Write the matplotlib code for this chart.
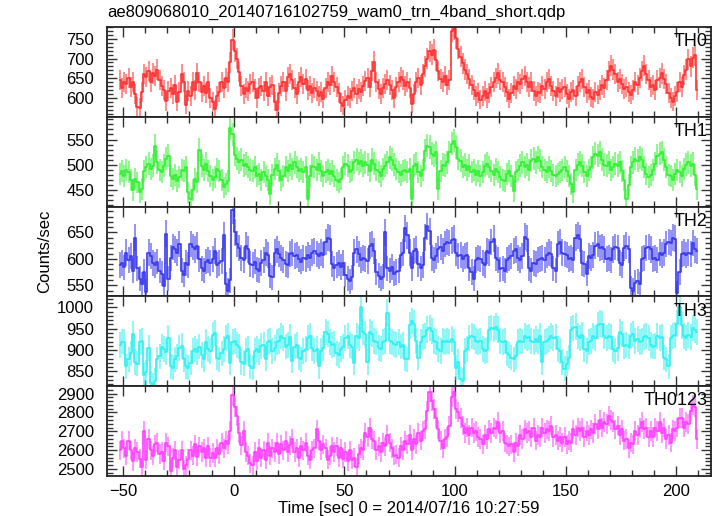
import numpy as np
import matplotlib
matplotlib.use('Agg')
import matplotlib.pyplot as plt
from matplotlib.ticker import MultipleLocator

plt.rcParams['font.family'] = ['Liberation Sans', 'DejaVu Sans']

# 1 s bins, centres from -51.5 to 209.5 s
t_start = -51.5
n_bins = 262

th0 = [
    645, 625, 640, 635, 650, 628, 640, 610, 578, 575,
    615, 660, 652, 668, 640, 662, 655, 672, 645, 630,
    620, 592, 618, 625, 610, 632, 590, 615, 660, 640,
    582, 618, 605, 640, 620, 662, 640, 615, 630, 612,
    640, 600, 590, 572, 605, 615, 640, 625, 650, 640,
    690, 748, 718, 700, 665, 630, 610, 625, 618, 635,
    640, 622, 600, 625, 630, 618, 640, 605, 628, 632,
    590, 570, 612, 630, 640, 618, 652, 660, 645, 625,
    610, 640, 652, 635, 648, 620, 630, 612, 625, 618,
    605, 615, 598, 625, 640, 632, 655, 640, 628, 612,
    588, 580, 595, 605, 600, 618, 625, 610, 622, 615,
    630, 642, 650, 628, 668, 692, 640, 622, 610, 625,
    635, 645, 632, 620, 600, 628, 640, 652, 645, 630,
    640, 625, 585, 610, 640, 650, 632, 660, 680, 700,
    718, 710, 722, 695, 668, 648, 640, 655, 632, 645,
    770, 775, 752, 725, 705, 688, 672, 660, 648, 632,
    620, 605, 612, 595, 605, 618, 600, 612, 628, 640,
    650, 662, 645, 640, 628, 615, 598, 612, 630, 622,
    640, 635, 648, 655, 640, 628, 640, 618, 605, 615,
    612, 630, 622, 640, 648, 630, 618, 605, 625, 615,
    622, 628, 610, 598, 615, 620, 605, 630, 640, 648,
    628, 612, 620, 602, 598, 615, 608, 620, 632, 625,
    645, 668, 682, 672, 660, 640, 648, 635, 622, 628,
    615, 608, 620, 640, 632, 650, 668, 682, 660, 645,
    628, 632, 620, 645, 650, 662, 648, 635, 612, 600,
    590, 605, 615, 640, 628, 658, 672, 698, 680, 702,
    708, 620,
]

th1 = [
    482, 488, 478, 490, 485, 470, 450, 472, 465, 445,
    452, 488, 495, 502, 492, 498, 538, 505, 490, 485,
    498, 512, 518, 478, 472, 480, 468, 475, 490, 488,
    495, 445, 432, 450, 472, 465, 530, 498, 490, 502,
    488, 478, 470, 475, 492, 488, 470, 455, 462, 468,
    572, 560, 520, 512, 505, 510, 498, 502, 495, 490,
    488, 495, 478, 482, 470, 485, 478, 470, 442, 480,
    492, 500, 488, 470, 478, 495, 488, 500, 492, 505,
    495, 488, 492, 485, 495, 432, 478, 498, 495, 490,
    502, 488, 478, 485, 490, 482, 488, 478, 470, 465,
    472, 495, 502, 498, 485, 490, 505, 510, 502, 508,
    498, 505, 500, 488, 510, 502, 490, 485, 478, 492,
    498, 505, 515, 510, 500, 492, 485, 480, 488, 490,
    485, 492, 432, 498, 502, 485, 478, 490, 528, 538,
    535, 522, 518, 525, 452, 488, 500, 498, 505, 525,
    542, 548, 535, 512, 508, 495, 500, 490, 498, 485,
    490, 480, 488, 478, 485, 498, 502, 495, 488, 480,
    492, 485, 475, 470, 468, 482, 488, 478, 448, 485,
    490, 498, 505, 495, 500, 490, 508, 512, 505, 515,
    508, 495, 490, 485, 495, 488, 480, 478, 482, 485,
    490, 495, 488, 478, 462, 445, 490, 500, 505, 498,
    485, 478, 490, 495, 515, 522, 518, 525, 510, 500,
    498, 505, 490, 495, 502, 498, 505, 488, 470, 432,
    460, 495, 505, 512, 508, 515, 510, 495, 482, 475,
    480, 490, 502, 518, 522, 525, 510, 495, 480, 478,
    470, 482, 490, 485, 478, 492, 500, 505, 498, 502,
    480, 452,
]

th2 = [
    588, 592, 584, 612, 598, 606, 578, 640, 582, 562,
    552, 575, 538, 612, 605, 592, 588, 595, 578, 572,
    548, 648, 562, 602, 622, 618, 612, 628, 578, 570,
    592, 588, 628, 622, 618, 625, 600, 582, 578, 595,
    598, 592, 600, 615, 588, 592, 596, 645, 552, 540,
    560, 692, 650, 628, 620, 602, 598, 625, 618, 590,
    588, 595, 580, 578, 592, 598, 612, 608, 568, 565,
    612, 618, 610, 602, 598, 590, 588, 610, 612, 605,
    608, 600, 595, 602, 600, 608, 602, 612, 615, 610,
    605, 612, 608, 632, 640, 638, 590, 582, 588, 592,
    585, 592, 570, 562, 558, 565, 612, 618, 610, 598,
    602, 600, 596, 625, 628, 615, 575, 568, 562, 566,
    650, 582, 578, 585, 572, 575, 578, 608, 612, 658,
    645, 612, 582, 615, 618, 590, 582, 588, 640, 662,
    652, 602, 598, 605, 618, 622, 615, 628, 632, 630,
    635, 638, 612, 605, 608, 600, 605, 608, 582, 575,
    562, 598, 602, 600, 592, 588, 615, 612, 632, 638,
    602, 598, 580, 582, 578, 598, 602, 605, 615, 618,
    602, 598, 605, 642, 638, 582, 578, 592, 590, 598,
    600, 602, 598, 608, 612, 610, 582, 578, 628, 632,
    612, 610, 608, 600, 602, 598, 640, 645, 638, 592,
    590, 572, 605, 602, 608, 625, 628, 620, 622, 618,
    600, 602, 598, 618, 622, 620, 592, 588, 620, 625,
    618, 545, 540, 555, 558, 552, 600, 602, 620, 622,
    618, 600, 602, 598, 612, 608, 612, 628, 632, 630,
    640, 638, 535, 575, 610, 612, 608, 612, 610, 630,
    618, 615,
]

th3 = [
    912, 920, 918, 862, 878, 892, 938, 872, 868, 918,
    922, 842, 848, 905, 822, 818, 828, 878, 885, 908,
    902, 895, 928, 862, 858, 878, 885, 905, 910, 878,
    862, 858, 870, 898, 902, 895, 908, 888, 878, 918,
    902, 898, 935, 940, 882, 878, 892, 902, 928, 932,
    870, 918, 922, 912, 908, 872, 868, 898, 902, 862,
    858, 898, 902, 895, 910, 912, 880, 918, 922, 898,
    905, 918, 922, 932, 928, 908, 912, 930, 875, 908,
    912, 882, 878, 898, 902, 928, 932, 905, 898, 902,
    862, 898, 905, 942, 938, 918, 912, 915, 892, 888,
    902, 908, 928, 932, 912, 908, 870, 932, 928, 1000,
    942, 938, 872, 942, 938, 922, 918, 905, 902, 918,
    922, 988, 922, 918, 915, 912, 918, 908, 912, 880,
    878, 958, 968, 962, 922, 882, 918, 930, 932, 948,
    952, 945, 922, 918, 902, 898, 922, 918, 922, 920,
    925, 918, 858, 872, 832, 828, 898, 902, 928, 932,
    930, 922, 918, 922, 902, 898, 900, 948, 952, 950,
    955, 948, 922, 918, 922, 892, 888, 882, 878, 885,
    918, 922, 920, 932, 928, 930, 922, 918, 925, 920,
    932, 872, 918, 922, 925, 932, 928, 930, 902, 898,
    872, 856, 868, 882, 948, 952, 955, 932, 928, 935,
    902, 898, 918, 922, 932, 928, 958, 962, 960, 932,
    928, 932, 930, 902, 898, 905, 942, 938, 910, 912,
    908, 932, 938, 922, 925, 918, 922, 930, 932, 928,
    912, 908, 910, 932, 928, 930, 882, 878, 862, 928,
    932, 935, 962, 1000, 958, 932, 928, 935, 930, 952,
    948, 942,
]

th0123 = [
    2600, 2650, 2610, 2570, 2650, 2600, 2540, 2610, 2590, 2555,
    2510, 2700, 2550, 2660, 2600, 2570, 2630, 2640, 2580, 2590,
    2545, 2640, 2620, 2490, 2560, 2600, 2510, 2550, 2600, 2500,
    2520, 2555, 2600, 2570, 2630, 2565, 2620, 2590, 2610, 2560,
    2620, 2560, 2585, 2560, 2610, 2580, 2640, 2610, 2650, 2630,
    2700, 2890, 2830, 2780, 2690, 2625, 2700, 2590, 2570, 2530,
    2520, 2590, 2545, 2610, 2560, 2600, 2550, 2640, 2570, 2610,
    2590, 2640, 2580, 2630, 2600, 2650, 2590, 2625, 2660, 2590,
    2610, 2560, 2620, 2600, 2640, 2570, 2550, 2600, 2610, 2710,
    2650, 2600, 2630, 2610, 2550, 2570, 2620, 2590, 2620, 2560,
    2610, 2555, 2590, 2540, 2600, 2550, 2560, 2510, 2580, 2610,
    2600, 2690, 2670, 2720, 2660, 2650, 2600, 2620, 2590, 2640,
    2620, 2680, 2640, 2610, 2570, 2575, 2560, 2620, 2600, 2650,
    2630, 2680, 2600, 2660, 2630, 2690, 2650, 2700, 2710, 2810,
    2910, 2860, 2820, 2770, 2710, 2650, 2610, 2660, 2670, 2730,
    2880, 2910, 2820, 2800, 2770, 2730, 2690, 2720, 2680, 2720,
    2690, 2700, 2670, 2660, 2630, 2680, 2660, 2710, 2690, 2720,
    2710, 2750, 2690, 2700, 2640, 2630, 2620, 2630, 2590, 2640,
    2620, 2680, 2660, 2710, 2690, 2700, 2670, 2720, 2650, 2680,
    2670, 2720, 2690, 2710, 2700, 2730, 2670, 2680, 2650, 2670,
    2640, 2670, 2630, 2650, 2640, 2710, 2680, 2720, 2700, 2720,
    2670, 2700, 2680, 2710, 2690, 2740, 2710, 2760, 2720, 2750,
    2740, 2780, 2760, 2750, 2710, 2730, 2680, 2710, 2650, 2660,
    2610, 2640, 2630, 2700, 2680, 2720, 2750, 2710, 2720, 2670,
    2700, 2670, 2720, 2700, 2750, 2690, 2720, 2660, 2680, 2640,
    2710, 2700, 2720, 2770, 2770, 2720, 2750, 2740, 2810, 2840,
    2830, 2660,
]

labels = ['TH0', 'TH1', 'TH2', 'TH3', 'TH0123']
series = [th0, th1, th2, th3, th0123]
colors = ['#ff3030', '#30f030', '#3838ee', '#30f0f0', '#ff40ff']
ylims = [(552, 780), (417, 595), (529, 699), (815, 1026), (2463, 2939)]
ymajor = [50, 50, 50, 50, 100]
yminor = [10, 10, 10, 10, 20]

t = t_start + np.arange(n_bins)

W, H = 717, 516
fig = plt.figure(figsize=(W / 100, H / 100), dpi=100)

left, right = 106.7, 711
top, bottom = 27, 476
ph = (bottom - top) / 5

axes = []
for i in range(5):
    y0 = top + i * ph
    ax = fig.add_axes([left / W, 1 - (y0 + ph) / H, (right - left) / W, ph / H])
    v = np.array(series[i], dtype=float)
    err = np.sqrt(v)
    c = colors[i]
    ax.errorbar(t, v, yerr=err, fmt='none', ecolor=c, elinewidth=1.4, alpha=0.55, capsize=0)
    ax.step(t, v, where='mid', color=c, lw=1.2)
    ax.set_xlim(-57.4, 215.7)
    ax.set_ylim(*ylims[i])
    ax.xaxis.set_major_locator(MultipleLocator(50))
    ax.xaxis.set_minor_locator(MultipleLocator(10))
    ax.yaxis.set_major_locator(MultipleLocator(ymajor[i]))
    ax.yaxis.set_minor_locator(MultipleLocator(yminor[i]))
    ax.tick_params(which='both', direction='in', top=True, right=True, labelsize=12, colors='#333333', labelcolor='black')
    ax.tick_params(which='major', length=7, width=1)
    ax.tick_params(which='minor', length=4, width=1)
    ax.tick_params(axis='y', pad=9)
    ax.tick_params(axis='x', pad=6)
    for s in ax.spines.values():
        s.set_linewidth(1.3)
        s.set_color('#222222')
    if i < 4:
        ax.tick_params(labelbottom=False)
    ax.text(0.995, 0.93, labels[i], transform=ax.transAxes, ha='right', va='top', fontsize=13, zorder=10)
    axes.append(ax)

axes[-1].set_xlabel('Time [sec] 0 = 2014/07/16 10:27:59', fontsize=12, labelpad=1)
fig.text(45 / W, 1 - 251 / H, 'Counts/sec', rotation=90, ha='center', va='center', fontsize=12)
fig.text(107 / W, 1 - 12 / H, 'ae809068010_20140716102759_wam0_trn_4band_short.qdp', ha='left', va='center', fontsize=12)

fig.savefig('out.png', dpi=100)
